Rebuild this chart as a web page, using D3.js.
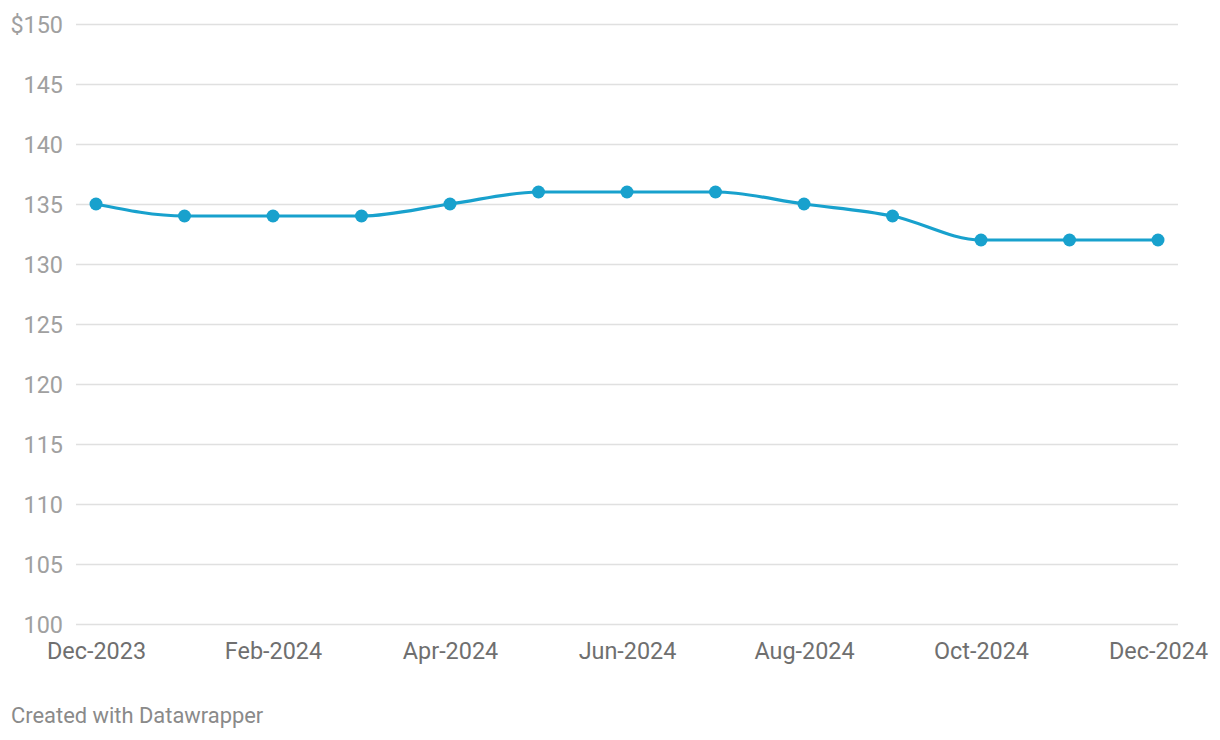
<!DOCTYPE html>
<html><head><meta charset="utf-8">
<script src="https://cdn.jsdelivr.net/npm/d3@7"></script>
<style>
body{margin:0;background:#fff;font-family:Roboto,"Noto Sans",sans-serif;}
svg{display:block}
</style></head><body>
<svg id="c" width="1220" height="740"></svg>
<script>
const months = ["2023-12","2024-01","2024-02","2024-03","2024-04","2024-05","2024-06","2024-07","2024-08","2024-09","2024-10","2024-11","2024-12"];
const prices = [135,134,134,134,135,136,136,136,135,134,132,132,132];
const yTicks = [100,105,110,115,120,125,130,135,140,145,150];
const xTickMonths = ["2023-12","2024-02","2024-04","2024-06","2024-08","2024-10","2024-12"];

const parse = d3.timeParse("%Y-%m");
const data = months.map((m,i)=>({date:parse(m), v:prices[i]}));
const svg = d3.select("#c");
const xi = d3.scaleLinear().domain([0, months.length-1]).range([96,1158]);
const y = d3.scaleLinear().domain([100,150]).range([624,24]);

const yAxis = d3.axisLeft(y).tickValues(yTicks).tickSize(0).tickPadding(0)
  .tickFormat(d => d===150 ? "$150" : d);
const gy = svg.append("g").call(yAxis);
gy.select(".domain").remove();
gy.selectAll(".tick line").remove();
gy.selectAll(".tick").append("line").attr("x1",76).attr("x2",1178).attr("stroke","#e0e0e0").attr("stroke-width",1.3);
gy.selectAll(".tick text").attr("x",63).attr("dy","0.35em").attr("fill","#a0a0a0")
  .style("font-size","23.4px").style("font-family","Roboto");

const xAxis = d3.axisBottom(xi).tickValues(xTickMonths.map(m=>months.indexOf(m))).tickSize(0).tickPadding(0)
  .tickFormat(i => d3.timeFormat("%b-%Y")(parse(months[i])));
const gx = svg.append("g").attr("transform","translate(0,659)").call(xAxis);
gx.select(".domain").remove();
gx.selectAll(".tick text").attr("y",0).attr("dy",0).attr("fill","#6f6f6f")
  .style("font-size","23.4px").style("font-family","Roboto");

const line = d3.line().x((d,i)=>xi(i)).y(d=>y(d.v)).curve(d3.curveMonotoneX);
svg.append("path").datum(data).attr("d",line).attr("fill","none")
  .attr("stroke","#18a1cd").attr("stroke-width",3.2);
svg.append("g").selectAll("circle").data(data).join("circle")
  .attr("cx",(d,i)=>xi(i)).attr("cy",d=>y(d.v)).attr("r",6.5).attr("fill","#18a1cd");

svg.append("text").attr("x",11).attr("y",723).text("Created with Datawrapper")
  .attr("fill","#8a8a8a").style("font-size","21.9px").style("font-family","Roboto");
</script>
</body></html>
